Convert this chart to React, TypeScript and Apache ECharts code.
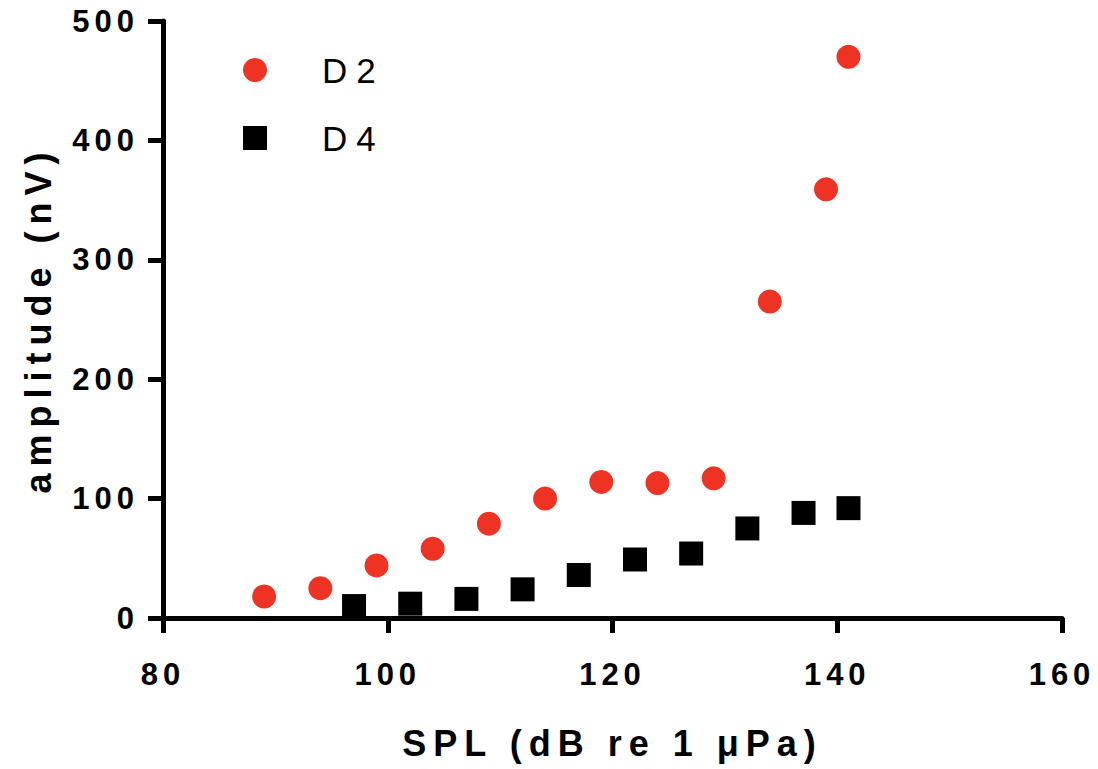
import React, { useEffect, useRef } from "react";
import * as echarts from "echarts";

const d2X = [89, 94, 99, 104, 109, 114, 119, 124, 129, 134, 139, 141];
const d2Y = [18, 25, 44, 58, 79, 100, 114, 113, 117, 265, 359, 470];
const d4X = [97, 102, 107, 112, 117, 122, 127, 132, 137, 141];
const d4Y = [10, 12, 16, 24, 36, 49, 54, 75, 88, 92];
const seriesNames = ["D2", "D4"];
const xAxisTitle = "SPL (dB re 1 μPa)";
const yAxisTitle = "amplitude (nV)";

const FONT = "'Liberation Sans', Arial, Helvetica, sans-serif";

export default function App() {
  const ref = useRef<HTMLDivElement>(null);
  useEffect(() => {
    if (!ref.current) return;
    const chart = echarts.init(ref.current, undefined, { renderer: "svg" });
    const axisCommon = {
      axisLine: { show: true, lineStyle: { color: "#000", width: 5 } },
      axisTick: { show: true, length: 15, lineStyle: { color: "#000", width: 5 } },
      splitLine: { show: false },
      nameLocation: "middle",
      nameGap: 107,
      nameTextStyle: { color: "#000", fontSize: 36, fontWeight: "bold", fontFamily: FONT, lineHeight: 36 },
    };
    chart.setOption({
      animation: false,
      backgroundColor: "#fff",
      grid: { left: 163, right: 36, top: 21, bottom: 151 },
      xAxis: {
        type: "value",
        min: 80,
        max: 160,
        interval: 20,
        name: xAxisTitle,
        ...axisCommon,
        axisLabel: { color: "#000", fontSize: 31, fontWeight: "bold", fontFamily: FONT, margin: 41 },
      },
      yAxis: {
        type: "value",
        min: 0,
        max: 500,
        interval: 100,
        name: yAxisTitle,
        ...axisCommon,
        axisLabel: {
          color: "#000",
          fontSize: 31,
          fontWeight: "bold",
          fontFamily: FONT,
          margin: 24,
          padding: [9, 0, 0, 0],
        },
      },
      legend: {
        orient: "vertical",
        left: 238,
        top: 47,
        itemWidth: 24,
        itemHeight: 24,
        itemGap: 32,
        data: [
          { name: seriesNames[0], icon: "circle" },
          { name: seriesNames[1], icon: "rect" },
        ],
        textStyle: { color: "#000", fontSize: 35, fontFamily: FONT, lineHeight: 36, padding: [0, 0, 0, 50] },
      },
      series: [
        {
          name: seriesNames[0],
          type: "scatter",
          symbol: "circle",
          symbolSize: 24,
          itemStyle: { color: "#EE3224", opacity: 1 },
          data: d2X.map((x, i) => [x, d2Y[i]]),
        },
        {
          name: seriesNames[1],
          type: "scatter",
          symbol: "rect",
          symbolSize: 24,
          itemStyle: { color: "#000", opacity: 1 },
          data: d4X.map((x, i) => [x, d4Y[i]]),
        },
      ],
    });
    return () => chart.dispose();
  }, []);
  return (
    <>
      <style>{`
        body { margin: 0; }
        .chart text[style*="31px"] { letter-spacing: 5px; }
        .chart text[style*="36px"] { letter-spacing: 7px; }
        .chart text[style*="35px"] { letter-spacing: 9px; }
      `}</style>
      <div className="chart" ref={ref} style={{ width: 1098, height: 769 }} />
    </>
  );
}
